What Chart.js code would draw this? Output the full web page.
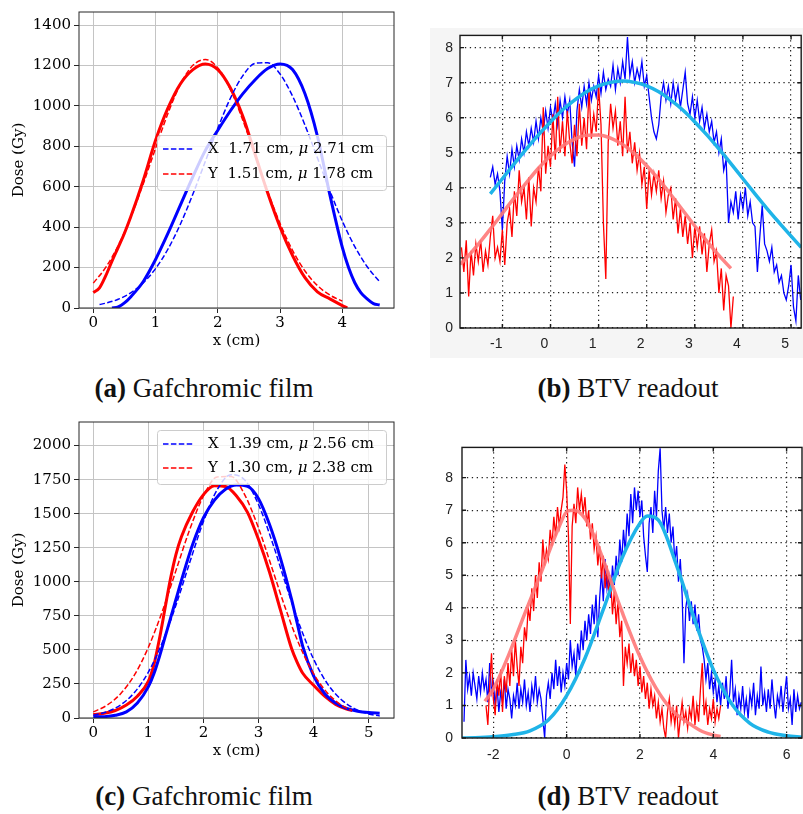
<!DOCTYPE html>
<html>
<head>
<meta charset="utf-8">
<script src="https://cdn.jsdelivr.net/npm/chart.js@4.4.1/dist/chart.umd.min.js"></script>
<style>
  body { margin: 0; background: #fff; width: 803px; height: 814px; position: relative; overflow: hidden; }
  .panel { position: absolute; }
  .cap { position: absolute; font-family: "Liberation Serif", serif; font-size: 27px; line-height: 30px;
         color: #111; white-space: nowrap; transform: translateX(-50%); }
  .cap b { font-weight: bold; }
</style>
</head>
<body>
<div class="panel" style="left:430px;top:28px;width:373px;height:330px;background:#f5f5f5"></div>
<div class="panel" style="left:0;top:0"><canvas id="chartA" width="400" height="355"></canvas></div>
<div class="panel" style="left:420px;top:20px"><canvas id="chartB" width="383" height="340"></canvas></div>
<div class="panel" style="left:0;top:410px"><canvas id="chartC" width="400" height="355"></canvas></div>
<div class="panel" style="left:420px;top:430px"><canvas id="chartD" width="383" height="335"></canvas></div>

<div class="cap" style="left:204px;top:373px"><b>(a)</b> Gafchromic film</div>
<div class="cap" style="left:628px;top:373px"><b>(b)</b> BTV readout</div>
<div class="cap" style="left:204px;top:781px"><b>(c)</b> Gafchromic film</div>
<div class="cap" style="left:628px;top:781px"><b>(d)</b> BTV readout</div>

<script>
// ---- (a) film, dose profiles (Gy) ----
const filmA_blueX = [0.3,0.4,0.5,0.6,0.8,1.0,1.2,1.4,1.6,1.8,2.0,2.2,2.4,2.6,2.8,3.0,3.2,3.4,3.6,3.8,4.0,4.1,4.2,4.3,4.4,4.5,4.6];
const filmA_blueY = [0,5,25,55,130,240,370,510,650,780,880,975,1060,1130,1185,1208,1180,1060,850,560,300,200,125,75,45,22,15];
const filmA_redX = [0,0.1,0.2,0.3,0.4,0.5,0.6,0.8,1.0,1.2,1.4,1.6,1.8,2.0,2.2,2.4,2.6,2.8,3.0,3.2,3.4,3.6,3.8,4.0,4.08];
const filmA_redY = [76,100,160,232,300,370,450,630,830,990,1110,1180,1208,1180,1090,950,760,570,400,260,150,80,45,12,0];
const fitA_blueX = [0.1,0.2,0.4,0.6,0.8,1.0,1.2,1.4,1.6,1.8,2.0,2.2,2.4,2.6,2.8,3.0,3.2,3.4,3.6,3.8,4.0,4.2,4.4,4.6];
const fitA_blueY = [17,24,43,75,124,195,292,416,564,726,890,1037,1149,1211,1214,1158,1049,905,743,580,430,304,204,130];
const fitA_redX = [0,0.2,0.4,0.6,0.8,1.0,1.2,1.4,1.6,1.8,2.0,2.2,2.4,2.6,2.8,3.0,3.2,3.4,3.6,3.8,4.0];
const fitA_redY = [123,201,309,448,613,791,964,1108,1201,1230,1188,1083,931,755,578,418,285,183,111,64,34];
const legendA = ['X  1.71 cm, μ 2.71 cm', 'Y  1.51 cm, μ 1.78 cm'];

// ---- (c) film ----
const filmC_blueX = [0,0.2,0.4,0.6,0.8,1.0,1.1,1.2,1.3,1.4,1.5,1.6,1.8,2.0,2.2,2.4,2.6,2.8,3.0,3.2,3.4,3.6,3.7,3.8,4.0,4.2,4.4,4.6,4.8,5.0,5.2];
const filmC_blueY = [8,10,20,45,110,230,325,450,590,730,870,1010,1270,1470,1600,1680,1710,1700,1610,1420,1170,870,700,530,310,180,110,70,50,40,35];
const filmC_redX = [0,0.2,0.4,0.6,0.8,1.0,1.1,1.2,1.3,1.4,1.5,1.6,1.8,2.0,2.2,2.4,2.6,2.8,3.0,3.2,3.4,3.6,3.7,3.8,4.0,4.2,4.4,4.6,4.7];
const filmC_redY = [25,35,55,95,160,270,390,580,800,1020,1200,1330,1510,1640,1705,1700,1630,1510,1310,1070,790,510,410,330,240,160,100,65,55];
const fitC_blueX = [0,0.25,0.5,0.75,1.0,1.25,1.5,1.75,2.0,2.25,2.5,2.75,3.0,3.25,3.5,3.75,4.0,4.25,4.5,4.75,5.0,5.2];
const fitC_blueY = [20,46,97,189,337,552,828,1141,1443,1676,1786,1747,1567,1291,976,678,432,252,136,67,30,15];
const fitC_redX = [0,0.25,0.5,0.75,1.0,1.25,1.5,1.75,2.0,2.25,2.5,2.75,3.0,3.25,3.5,3.75,4.0,4.25,4.5,4.7];
const fitC_redY = [45,94,180,318,519,780,1082,1383,1630,1770,1773,1638,1394,1094,792,528,325,184,96,54];
const legendC = ['X  1.39 cm, μ 2.56 cm', 'Y  1.30 cm, μ 2.38 cm'];

// ---- (b) BTV readout, raw profiles sampled every 0.05 ----
const btvStep = 0.05;
const btvB_blueFrom = -1.25;
const btvB_blue = [
  4.3,4.6,4.1,4.4,3.9,2.8,4.2,4.9,4.4,5.1, 4.6,5.2,4.8,5.4,5.0,5.6,5.2,5.7,5.3,5.9,
  5.4,6.0,5.6,6.2,5.7,6.3,5.9,6.4,5.8,6.5, 6.0,6.6,6.1,6.5,5.3,4.6,6.2,6.8,6.3,6.9,
  6.4,7.0,6.5,6.9,6.6,7.2,6.7,7.3,6.8,7.1, 6.9,7.5,6.8,7.4,7.0,7.6,7.1,8.3,7.2,7.6,
  7.0,7.4,7.1,7.6,6.9,7.2,6.6,6.0,5.6,5.4, 5.8,6.6,7.0,6.5,6.9,6.4,7.0,6.5,6.9,6.3,
  6.8,7.3,6.4,6.1,6.6,6.0,6.5,5.9,6.3,5.7, 6.1,5.6,5.9,5.3,5.6,5.0,5.4,4.5,4.8,3.0,
  3.6,3.3,3.9,3.1,3.8,3.4,4.0,3.2,3.6,3.0, 2.9,1.6,2.6,3.5,2.4,2.2,1.9,2.3,1.6,1.8,
  1.3,1.5,1.0,0.8,1.2,1.8,0.6,0.2,1.5,0.8
];
const btvB_redFrom = -1.85;
const btvB_red = [
  2.3,1.6,2.5,0.9,2.2,1.5,2.4,1.9,2.5,1.6, 2.2,1.8,2.6,3.2,2.0,2.3,1.9,2.8,1.8,3.0,
  3.4,2.6,3.9,3.2,4.5,3.6,4.0,3.1,4.3,2.9, 4.0,3.6,4.6,3.9,6.3,4.4,5.2,4.6,6.1,4.8,
  6.6,5.0,5.9,4.9,6.2,5.3,4.7,5.8,4.9,6.4, 5.2,6.0,5.1,6.8,5.4,6.1,5.6,6.9,5.8,3.0,
  1.4,5.3,6.4,5.7,6.2,5.2,5.9,4.9,6.6,5.0, 5.6,4.7,5.3,4.5,5.0,4.1,4.6,3.4,4.5,3.8,
  4.4,3.9,4.5,3.7,4.2,3.3,3.8,4.0,3.1,3.7, 2.7,3.4,2.6,3.2,2.4,3.0,2.0,2.9,2.3,2.9,
  2.1,2.7,1.6,2.4,2.8,1.9,2.2,1.0,1.7,0.5, 1.5,1.2,0.0,0.9
];
const fitB_blueX = [-1.25,-1.0,-0.75,-0.5,-0.25,0,0.25,0.5,0.75,1.0,1.25,1.5,1.75,2.0,2.25,2.5,2.75,3.0,3.25,3.5,3.75,4.0,4.25,4.5,4.75,5.0,5.21];
const fitB_blueY = [3.83,4.26,4.69,5.11,5.51,5.88,6.22,6.50,6.74,6.91,7.01,7.05,7.01,6.91,6.74,6.50,6.22,5.88,5.51,5.11,4.69,4.26,3.83,3.41,3.01,2.62,2.30];
const fitB_redX = [-1.88,-1.75,-1.5,-1.25,-1.0,-0.75,-0.5,-0.25,0,0.25,0.5,0.75,1.0,1.25,1.5,1.75,2.0,2.25,2.5,2.75,3.0,3.25,3.5,3.75];
const fitB_redY = [1.82,1.99,2.39,2.82,3.27,3.72,4.15,4.56,4.91,5.19,5.39,5.50,5.51,5.42,5.24,4.97,4.63,4.24,3.81,3.36,2.91,2.48,2.07,1.70];

// ---- (d) BTV readout ----
const btvD_blueFrom = -2.80;
const btvD_blue = [
  0.5,2.4,1.5,1.9,1.3,2.0,1.6,1.2,1.9,1.4, 2.0,1.5,1.8,1.1,2.3,1.4,1.7,1.0,1.6,0.8,
  1.4,1.1,1.8,0.9,1.5,1.2,0.6,1.3,1.0,1.7, 0.9,1.5,1.1,1.8,1.0,1.4,0.8,1.6,1.2,1.9,
  1.1,1.5,1.2,0.6,0.0,1.3,1.7,1.2,2.0,1.5, 2.4,1.6,2.2,1.4,2.0,1.6,2.3,1.8,3.0,2.2,
  2.6,1.9,2.9,2.4,3.3,2.7,3.6,3.0,3.8,3.2, 4.1,3.5,4.4,3.1,4.3,5.1,4.2,5.5,4.6,5.0,
  4.3,5.3,4.7,5.6,5.0,6.1,5.4,6.4,5.7,6.9, 6.2,7.5,6.6,7.7,7.0,7.6,6.8,7.3,6.2,5.6,
  5.1,6.6,7.1,6.3,7.6,6.8,8.2,8.9,7.0,6.4, 7.1,6.3,6.9,6.0,6.5,5.4,5.9,4.8,5.5,4.4,
  2.3,4.0,4.4,3.6,4.2,3.5,4.1,3.3,3.8,3.0, 2.8,2.4,1.8,2.3,1.5,2.0,1.4,1.8,1.1,1.6,
  1.0,1.7,1.2,1.9,0.9,1.4,2.4,1.1,1.5,0.7, 1.3,0.9,1.6,0.8,1.2,0.6,1.4,1.0,1.7,0.7,
  1.3,0.9,2.2,1.0,1.4,0.8,1.5,0.9,1.8,1.1, 0.6,1.3,1.0,1.6,0.8,1.4,1.9,0.9,1.2,0.4,
  1.5,0.8,1.3,0.9,1.1
];
const btvD_redFrom = -2.20;
const btvD_red = [
  1.0,0.4,1.6,2.6,1.2,0.7,1.8,1.3,2.1,0.8, 1.9,1.4,2.3,1.6,2.7,1.9,3.0,2.2,1.6,2.8,
  2.3,3.4,3.0,4.0,3.6,4.6,3.9,5.0,4.3,5.4, 4.8,6.1,5.3,5.8,5.5,6.4,5.9,6.8,6.2,7.1,
  6.5,7.0,7.4,8.4,7.6,6.2,3.5,6.5,7.2,6.6, 7.7,7.0,7.5,6.9,7.4,6.5,7.0,6.1,6.6,5.8,
  6.2,5.3,5.9,4.9,5.6,4.6,5.3,4.4,4.9,3.8, 4.5,3.5,4.2,3.1,3.6,1.6,2.8,2.3,2.9,2.0,
  2.6,1.9,2.4,1.6,2.2,1.4,1.9,1.2,1.7,0.9, 1.5,1.0,1.3,0.6,1.1,0.5,0.9,0.3,0.0,0.8,
  1.2,0.5,0.9,0.4,1.0,0.0,0.6,1.1,0.5,0.8, 0.3,0.9,0.6,1.3,0.4,1.0,0.5,1.5,2.3,0.7,
  1.1,0.4,0.9,0.6,1.2,0.5,0.9,0.6,1.0
];
const fitD_blueX = [-2.85,-2.5,-2.0,-1.5,-1.0,-0.5,0,0.5,1.0,1.5,2.0,2.2,2.5,3.0,3.5,4.0,4.5,5.0,5.5,6.0,6.42];
const fitD_blueY = [0.0,0.01,0.04,0.1,0.22,0.55,1.3,2.45,3.95,5.5,6.6,6.82,6.7,5.3,3.6,2.1,1.05,0.45,0.18,0.07,0.02];
const fitD_redX = [-2.23,-2.0,-1.6,-1.14,-0.69,-0.24,0.03,0.2,0.5,0.75,1.07,1.52,1.98,2.43,2.88,3.34,3.7,4.08,4.2];
const fitD_redY = [1.13,1.5,2.5,3.83,5.1,6.4,6.98,7.0,6.75,6.2,5.25,3.85,2.55,1.55,0.85,0.45,0.2,0.07,0.05];

// ---------------------------------------------------------------
const pts = (xs, ys) => xs.map((x, i) => ({ x: x, y: ys[i] }));
const gridPts = (from, ys) => ys.map((y, i) => ({ x: from + i * btvStep, y: y }));

const frame = {
  id: 'frame',
  beforeDraw(chart, args, o) {
    if (!o.fill) return;
    const a = chart.chartArea, ctx = chart.ctx;
    ctx.save();
    ctx.fillStyle = o.fill;
    ctx.fillRect(a.left, a.top, a.right - a.left, a.bottom - a.top);
    ctx.restore();
  },
  afterDraw(chart, args, o) {
    const a = chart.chartArea, ctx = chart.ctx;
    ctx.save();
    ctx.strokeStyle = o.color;
    ctx.lineWidth = o.width;
    ctx.strokeRect(a.left, a.top, a.right - a.left, a.bottom - a.top);
    if (o.innerTicks) {
      const L = o.innerTicks, sx = chart.scales.x, sy = chart.scales.y;
      ctx.beginPath();
      sx.ticks.forEach(t => {
        const p = sx.getPixelForValue(t.value);
        ctx.moveTo(p, a.bottom); ctx.lineTo(p, a.bottom - L);
        ctx.moveTo(p, a.top); ctx.lineTo(p, a.top + L);
      });
      sy.ticks.forEach(t => {
        const p = sy.getPixelForValue(t.value);
        ctx.moveTo(a.left, p); ctx.lineTo(a.left + L, p);
        ctx.moveTo(a.right, p); ctx.lineTo(a.right - L, p);
      });
      ctx.stroke();
    }
    ctx.restore();
  }
};

// matplotlib-like legend box with italic mu
const boxLegend = {
  id: 'boxLegend',
  afterDraw(chart, args, o) {
    if (!o.items) return;
    const ctx = chart.ctx, a = chart.chartArea;
    const x = a.left + o.left, y = a.top + o.top;
    ctx.save();
    ctx.beginPath();
    ctx.roundRect(x + 0.5, y + 0.5, o.width, o.height, 3);
    ctx.fillStyle = 'rgba(255,255,255,0.8)';
    ctx.fill();
    ctx.strokeStyle = '#cccccc';
    ctx.lineWidth = 1;
    ctx.stroke();
    o.items.forEach((it, i) => {
      const ly = y + o.firstRow + i * o.rowGap;
      ctx.beginPath();
      ctx.setLineDash([5.5, 2.4]);
      ctx.strokeStyle = it.color;
      ctx.lineWidth = 1.5;
      ctx.moveTo(x + 6, ly);
      ctx.lineTo(x + 37, ly);
      ctx.stroke();
      ctx.setLineDash([]);
      let tx = x + 51;
      ctx.fillStyle = '#000';
      ctx.textBaseline = 'middle';
      it.text.split('μ').forEach((part, k) => {
        if (k > 0) {
          ctx.font = 'italic 15px "DejaVu Serif"';
          ctx.fillText('μ', tx, ly);
          tx += ctx.measureText('μ').width;
        }
        ctx.font = '15px "DejaVu Serif"';
        ctx.fillText(part, tx, ly);
        tx += ctx.measureText(part).width;
      });
    });
    ctx.restore();
  }
};

function filmChart(id, sets, xr, yr, legend) {
  const serif = { family: 'DejaVu Serif', size: 15 };
  return new Chart(document.getElementById(id), {
    type: 'line',
    data: {
      datasets: [
        { data: pts(sets.fitBx, sets.fitBy), borderColor: '#0000ff', borderWidth: 1.5, borderDash: [5.5, 2.4], cubicInterpolationMode: 'monotone', order: 1 },
        { data: pts(sets.fitRx, sets.fitRy), borderColor: '#ff0000', borderWidth: 1.5, borderDash: [5.5, 2.4], cubicInterpolationMode: 'monotone', order: 2 },
        { data: pts(sets.bx, sets.by), borderColor: '#0000ff', borderWidth: 3, cubicInterpolationMode: 'monotone', order: 3 },
        { data: pts(sets.rx, sets.ry), borderColor: '#ff0000', borderWidth: 3, cubicInterpolationMode: 'monotone', order: 4 }
      ]
    },
    options: {
      responsive: false,
      animation: false,
      events: [],
      elements: { point: { radius: 0 } },
      layout: { padding: { left: 0, top: 7, right: 6, bottom: 0 } },
      scales: {
        x: {
          type: 'linear', min: xr[0], max: xr[1],
          afterFit: s => { s.height = 47; },
          ticks: { stepSize: xr[2], includeBounds: false, padding: 1, color: '#000', font: serif, maxRotation: 0,
                   callback: v => String(v) },
          grid: { color: '#c4c4c4', lineWidth: 1, tickLength: 5, tickColor: '#262626' },
          border: { display: false },
          title: { display: true, text: 'x (cm)', color: '#000', font: serif, padding: { top: 0, bottom: 5 } }
        },
        y: {
          type: 'linear', min: 0, max: yr[0],
          afterFit: s => { s.width = 79; },
          ticks: { stepSize: yr[1], includeBounds: false, padding: 3, color: '#000', font: serif,
                   callback: v => String(v) },
          grid: { color: '#c4c4c4', lineWidth: 1, tickLength: 5, tickColor: '#262626' },
          border: { display: false },
          title: { display: true, text: 'Dose (Gy)', color: '#000', font: serif, padding: { top: 10, bottom: 0 } }
        }
      },
      plugins: {
        legend: { display: false },
        tooltip: { enabled: false },
        frame: { color: '#262626', width: 1 },
        boxLegend: legend
      }
    },
    plugins: [frame, boxLegend]
  });
}

function btvChart(id, sets, xr, yr, box) {
  const sans = { family: 'Liberation Sans', size: 14 };
  return new Chart(document.getElementById(id), {
    type: 'line',
    data: {
      datasets: [
        { data: pts(sets.fitRx, sets.fitRy), borderColor: 'rgba(255,120,120,0.9)', borderWidth: 3.5, cubicInterpolationMode: 'monotone', order: 1 },
        { data: pts(sets.fitBx, sets.fitBy), borderColor: '#1fb4e8', borderWidth: 3.5, cubicInterpolationMode: 'monotone', order: 2 },
        { data: gridPts(sets.rFrom, sets.r), borderColor: '#ff0000', borderWidth: 1.3, order: 3 },
        { data: gridPts(sets.bFrom, sets.b), borderColor: '#0000ff', borderWidth: 1.3, order: 4 }
      ]
    },
    options: {
      responsive: false,
      animation: false,
      events: [],
      elements: { point: { radius: 0 } },
      layout: { padding: { left: 0, top: box.top, right: 1, bottom: 0 } },
      scales: {
        x: {
          type: 'linear', min: xr[0], max: xr[1],
          afterFit: s => { s.height = box.xh; },
          ticks: { stepSize: xr[2], includeBounds: false, padding: box.xpad, labelOffset: box.xoff, color: '#222', font: sans, maxRotation: 0,
                   callback: v => String(v) },
          grid: { color: '#222', lineWidth: 1.2, drawTicks: false },
          border: { display: false, dash: [1.3, 3.6] }
        },
        y: {
          type: 'linear', min: 0, max: yr,
          afterFit: s => { s.width = box.yw; },
          ticks: { stepSize: 1, includeBounds: false, padding: box.ypad, color: '#222', font: sans,
                   callback: v => String(v) },
          grid: { color: '#222', lineWidth: 1.2, drawTicks: false },
          border: { display: false, dash: [1.3, 3.6] }
        }
      },
      plugins: {
        legend: { display: false },
        tooltip: { enabled: false },
        frame: { color: '#1a1a1a', width: 1.4, fill: '#ffffff', innerTicks: 4 },
        boxLegend: {}
      }
    },
    plugins: [frame]
  });
}

filmChart('chartA',
  { bx: filmA_blueX, by: filmA_blueY, rx: filmA_redX, ry: filmA_redY,
    fitBx: fitA_blueX, fitBy: fitA_blueY, fitRx: fitA_redX, fitRy: fitA_redY },
  [-0.23, 4.83, 1], [1465, 200],
  { left: 78, top: 123, width: 229, height: 55, firstRow: 14, rowGap: 25,
    items: [{ color: '#0000ff', text: legendA[0] }, { color: '#ff0000', text: legendA[1] }] });

filmChart('chartC',
  { bx: filmC_blueX, by: filmC_blueY, rx: filmC_redX, ry: filmC_redY,
    fitBx: fitC_blueX, fitBy: fitC_blueY, fitRx: fitC_redX, fitRy: fitC_redY },
  [-0.26, 5.46, 1], [2173, 250],
  { left: 78, top: 8, width: 229, height: 54, firstRow: 14, rowGap: 24,
    items: [{ color: '#0000ff', text: legendC[0] }, { color: '#ff0000', text: legendC[1] }] });

btvChart('chartB',
  { b: btvB_blue, bFrom: btvB_blueFrom, r: btvB_red, rFrom: btvB_redFrom,
    fitBx: fitB_blueX, fitBy: fitB_blueY, fitRx: fitB_redX, fitRy: fitB_redY },
  [-1.88, 5.21, 1], 8.35,
  { top: 12, xh: 32, yw: 40, xpad: 8, ypad: 7, xoff: -6 });

btvChart('chartD',
  { b: btvD_blue, bFrom: btvD_blueFrom, r: btvD_red, rFrom: btvD_redFrom,
    fitBx: fitD_blueX, fitBy: fitD_blueY, fitRx: fitD_redX, fitRy: fitD_redY },
  [-2.855, 6.42, 2], 8.93,
  { top: 11, xh: 27, yw: 42, xpad: 9, ypad: 9, xoff: 0 });
</script>
</body>
</html>
